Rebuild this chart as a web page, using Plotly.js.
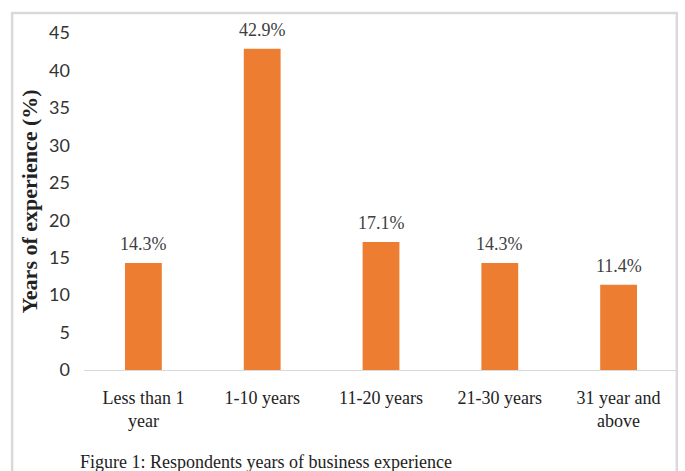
<!DOCTYPE html>
<html>
<head>
<meta charset="utf-8">
<script src="https://cdn.plot.ly/plotly-3.0.1.min.js"></script>
<style>html,body{margin:0;padding:0;background:#fff;}#chart{width:685px;height:471px;}</style>
</head>
<body>
<div id="chart"></div>
<script>
var categories = ["Less than 1<br>year", "1-10 years", "11-20 years", "21-30 years", "31 year and<br>above"];
var values = [14.3, 42.9, 17.1, 14.3, 11.4];
var valueLabels = ["14.3%", "42.9%", "17.1%", "14.3%", "11.4%"];
var yTicks = [0, 5, 10, 15, 20, 25, 30, 35, 40, 45];

var serif = "'Liberation Serif', 'Times New Roman', serif";

var trace = {
  type: "bar",
  x: categories,
  y: values,
  marker: {color: "#ED7D31"},
  hoverinfo: "skip"
};

var annotations = categories.map(function (c, i) {
  return {
    x: c, y: values[i], xref: "x", yref: "y",
    text: valueLabels[i], showarrow: false,
    yanchor: "bottom", yshift: 7,
    font: {family: serif, size: 18, color: "#404040"}
  };
});
annotations.push({
  xref: "paper", yref: "paper", x: -0.01, y: -0.273,
  xanchor: "left", yanchor: "middle", showarrow: false,
  text: "Figure 1: Respondents years of business experience",
  font: {family: serif, size: 18, color: "#222"}
});

var layout = {
  width: 685, height: 471,
  margin: {l: 84, r: 7, t: 33, b: 101},
  paper_bgcolor: "#fff", plot_bgcolor: "#fff",
  showlegend: false,
  bargap: 0.69,
  xaxis: {
    showgrid: false, zeroline: false,
    showline: true, linecolor: "#d9d9d9", linewidth: 1,
    ticks: "", ticklabelstandoff: 11,
    tickfont: {family: serif, size: 18, color: "#222"},
    fixedrange: true
  },
  yaxis: {
    range: [0, 45], tickvals: yTicks,
    showgrid: false, zeroline: false, showline: false,
    ticks: "", ticklabelstandoff: 13,
    tickfont: {family: "Lato, 'Open Sans', sans-serif", size: 18, color: "#333"},
    title: {text: "<b>Years of experience (%)</b>", standoff: 5,
            font: {family: serif, size: 22, color: "#222"}},
    fixedrange: true
  },
  annotations: annotations,
  shapes: [{
    type: "rect", xref: "paper", yref: "paper",
    x0: -0.121, x1: 0.998, y0: -0.45, y1: 1.059,
    line: {color: "#d9d9d9", width: 2.5}, fillcolor: "rgba(0,0,0,0)", layer: "below"
  }]
};

Plotly.newPlot("chart", [trace], layout, {displayModeBar: false, staticPlot: true});
</script>
</body>
</html>
